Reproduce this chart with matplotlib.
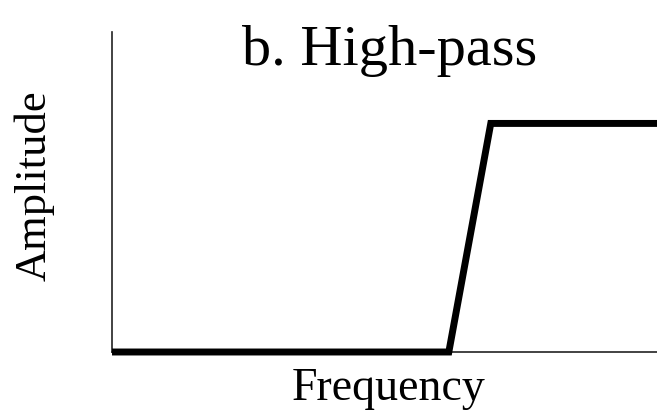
import matplotlib
matplotlib.use("Agg")
import matplotlib.pyplot as plt

# response curve of the high-pass filter (frequency, amplitude)
freq = [0.0, 6.18, 6.95, 10.0]
amp = [0.0, 0.0, 1.0, 1.0]

title = "b. High-pass"
xlabel = "Frequency"
ylabel = "Amplitude"

plt.rcParams['font.family'] = ['Liberation Serif', 'DejaVu Serif']

fig = plt.figure(figsize=(6.57, 4.13), dpi=100)
ax = fig.add_axes([0.1705, 0.1477, 0.8295, 0.7748])

ax.plot(freq, amp, color="black", lw=5, solid_capstyle="butt",
        solid_joinstyle="miter", clip_on=False, zorder=3)

ax.set_xlim(0, 10)
ax.set_ylim(0, 1.4)
ax.set_xticks([])
ax.set_yticks([])
for s in ["top", "right"]:
    ax.spines[s].set_visible(False)
for s in ["left", "bottom"]:
    ax.spines[s].set_linewidth(1.2)
    ax.spines[s].set_color("#222222")

fig.text(390 / 657, (413 - 65) / 413, title, ha="center", va="baseline", fontsize=42)
fig.text(389 / 657, (413 - 400) / 413, xlabel, ha="center", va="baseline", fontsize=33)
fig.text(34 / 657, (413 - 186) / 413, ylabel, ha="center", va="center",
         rotation=90, fontsize=32)

fig.savefig("out.png", dpi=100)
